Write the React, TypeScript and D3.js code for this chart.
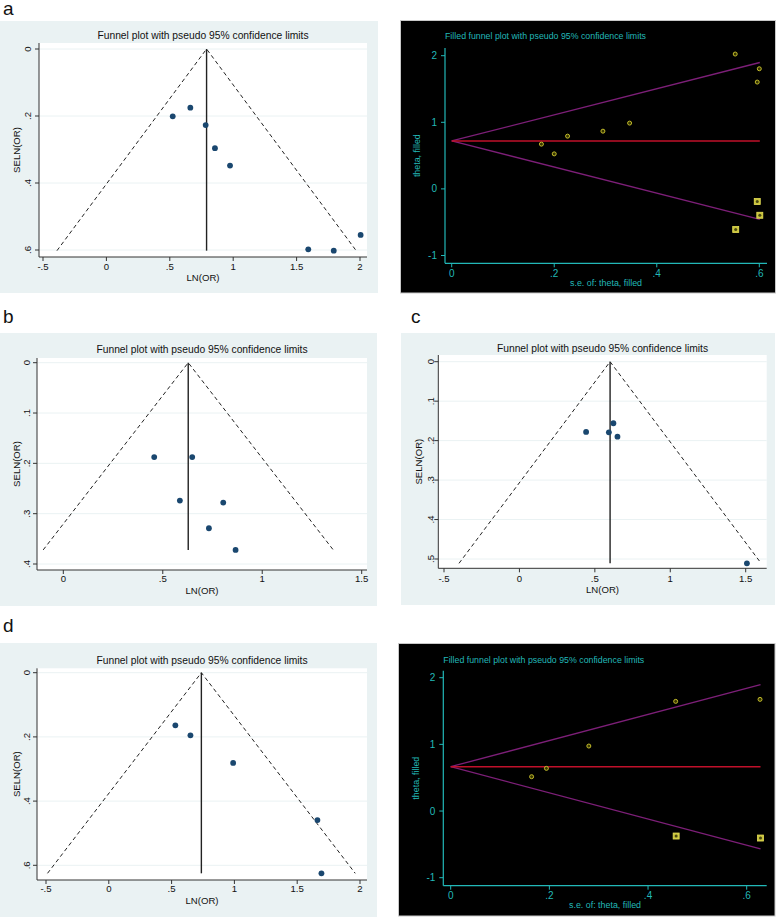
import React from 'react';
import * as d3 from 'd3';

// ---------- DATA ----------
// Panel a: funnel plot
const aLnOR = [0.523, 0.662, 0.783, 0.856, 0.975, 1.592, 1.793, 2.005];
const aSE = [0.201, 0.175, 0.227, 0.296, 0.348, 0.598, 0.602, 0.555];
const aPooled = 0.79;
const aXTicks = [-0.5, 0, 0.5, 1, 1.5, 2];
const aXTickLabels = ['-.5', '0', '.5', '1', '1.5', '2'];
const aYTicks = [0, 0.2, 0.4, 0.6];
const aYTickLabels = ['0', '.2', '.4', '.6'];

// Panel a: filled funnel plot (trim and fill)
const aFilledSE = [0.175, 0.2, 0.226, 0.295, 0.347, 0.553, 0.596, 0.6];
const aFilledTheta = [0.672, 0.526, 0.792, 0.867, 0.988, 2.025, 1.604, 1.804];
const aImputedSE = [0.596, 0.601, 0.554];
const aImputedTheta = [-0.19, -0.396, -0.61];
const aFilledPooled = 0.72;
const aFilledXTicks = [0, 0.2, 0.4, 0.6];
const aFilledXTickLabels = ['0', '.2', '.4', '.6'];
const filledYTicks = [-1, 0, 1, 2];
const filledYTickLabels = ['-1', '0', '1', '2'];

// Panel b
const bLnOR = [0.457, 0.648, 0.586, 0.804, 0.732, 0.866];
const bSE = [0.1875, 0.1875, 0.274, 0.278, 0.329, 0.372];
const bPooled = 0.628;
const bXTicks = [0, 0.5, 1, 1.5];
const bXTickLabels = ['0', '.5', '1', '1.5'];
const bYTicks = [0, 0.1, 0.2, 0.3, 0.4];
const bYTickLabels = ['0', '.1', '.2', '.3', '.4'];

// Panel c
const cLnOR = [0.623, 0.442, 0.593, 0.65, 1.508];
const cSE = [0.156, 0.178, 0.179, 0.19, 0.511];
const cPooled = 0.601;
const cXTicks = [-0.5, 0, 0.5, 1, 1.5];
const cXTickLabels = ['-.5', '0', '.5', '1', '1.5'];
const cYTicks = [0, 0.1, 0.2, 0.3, 0.4, 0.5];
const cYTickLabels = ['0', '.1', '.2', '.3', '.4', '.5'];

// Panel d
const dLnOR = [0.53, 0.65, 0.99, 1.661, 1.693];
const dSE = [0.164, 0.195, 0.281, 0.459, 0.625];
const dPooled = 0.737;
const dXTicks = [-0.5, 0, 0.5, 1, 1.5, 2];
const dXTickLabels = ['-.5', '0', '.5', '1', '1.5', '2'];
const dYTicks = [0, 0.2, 0.4, 0.6];
const dYTickLabels = ['0', '.2', '.4', '.6'];

// Panel d: filled funnel plot
const dFilledSE = [0.164, 0.194, 0.28, 0.456, 0.627];
const dFilledTheta = [0.515, 0.64, 0.975, 1.645, 1.675];
const dImputedSE = [0.457, 0.628];
const dImputedTheta = [-0.375, -0.405];
const dFilledPooled = 0.665;
const dFilledXTicks = [0, 0.2, 0.4, 0.6];
const dFilledXTickLabels = ['0', '.2', '.4', '.6'];

const funnelTitle = 'Funnel plot with pseudo 95% confidence limits';
const filledTitle = 'Filled funnel plot with pseudo 95% confidence limits';

// ---------- STYLE ----------
const FONT = '"Liberation Sans", Arial, sans-serif';
const BG = '#eaf2f3';
const NAVY = '#1a476f';
const CYAN = '#22b8b8';
const RED = '#c0102a';
const PURPLE = '#7d1f78';

type FunnelCfg = {
  letter: string;
  lx: number; ly: number;
  box: [number, number, number, number];
  plot: { left: number; right: number; top: number; bottom: number };
  xMap: { d: [number, number]; r: [number, number] };
  yMap: { d: [number, number]; r: [number, number] };
  lnOR: number[]; se: number[]; pooled: number;
  xTicks: number[]; xTickLabels: string[];
  yTicks: number[]; yTickLabels: string[];
  titleY: number; xLabY: number; xTitleY: number;
  yLabX: number; yTitleX: number;
};

function StataFunnel({ c }: { c: FunnelCfg }) {
  const x = d3.scaleLinear().domain(c.xMap.d).range(c.xMap.r);
  const y = d3.scaleLinear().domain(c.yMap.d).range(c.yMap.r);
  const { left, right, top, bottom } = c.plot;
  const seMax = d3.max(c.se) as number;
  const z = 1.96;
  const funnel = d3.line<[number, number]>().x(p => x(p[0])).y(p => y(p[1]));
  const lpts: [number, number][] = [[c.pooled - z * seMax, seMax], [c.pooled, 0], [c.pooled + z * seMax, seMax]];
  const midX = (left + right) / 2;
  const midY = (top + bottom) / 2;
  const [bx, by, bw, bh] = c.box;
  return (
    <g>
      <text x={c.lx} y={c.ly} fontFamily={FONT} fontSize={19} fill="#111">{c.letter}</text>
      <rect x={bx} y={by} width={bw} height={bh} fill={BG} />
      <rect x={left} y={top} width={right - left} height={bottom - top} fill="#fff" />
      {c.yTicks.map(t => (
        <line key={'g' + t} x1={left} x2={right} y1={y(t)} y2={y(t)} stroke={BG} strokeWidth={1} />
      ))}
      <text x={midX} y={c.titleY} textAnchor="middle" fontFamily={FONT} fontSize={10.3} fill="#111">{funnelTitle}</text>
      {/* axes */}
      <line x1={left} x2={left} y1={top} y2={bottom} stroke="#333" strokeWidth={1} />
      <line x1={left} x2={right} y1={bottom} y2={bottom} stroke="#333" strokeWidth={1} />
      {c.yTicks.map((t, i) => (
        <g key={'y' + t}>
          <line x1={left - 4} x2={left} y1={y(t)} y2={y(t)} stroke="#333" />
          <text transform={`translate(${c.yLabX},${y(t)}) rotate(-90)`} textAnchor="middle" fontFamily={FONT} fontSize={9.6} fill="#111">{c.yTickLabels[i]}</text>
        </g>
      ))}
      {c.xTicks.map((t, i) => (
        <g key={'x' + t}>
          <line x1={x(t)} x2={x(t)} y1={bottom} y2={bottom + 4} stroke="#333" />
          <text x={x(t)} y={c.xLabY} textAnchor="middle" fontFamily={FONT} fontSize={9.6} fill="#111">{c.xTickLabels[i]}</text>
        </g>
      ))}
      <text x={midX} y={c.xTitleY} textAnchor="middle" fontFamily={FONT} fontSize={9.6} fill="#111">LN(OR)</text>
      <text transform={`translate(${c.yTitleX},${midY}) rotate(-90)`} textAnchor="middle" fontFamily={FONT} fontSize={9.6} fill="#111">SELN(OR)</text>
      {/* funnel */}
      <path d={funnel(lpts) as string} fill="none" stroke="#222" strokeWidth={1} strokeDasharray="4,3" />
      <line x1={x(c.pooled)} x2={x(c.pooled)} y1={y(0)} y2={y(seMax)} stroke="#222" strokeWidth={1.4} />
      {c.lnOR.map((v, i) => (
        <circle key={'p' + i} cx={x(v)} cy={y(c.se[i])} r={2.9} fill={NAVY} />
      ))}
    </g>
  );
}

type FilledCfg = {
  box: [number, number, number, number];
  axisX: number; axisY: number; axisRight: number; axisTop: number;
  xMap: { d: [number, number]; r: [number, number] };
  yMap: { d: [number, number]; r: [number, number] };
  se: number[]; theta: number[]; impSE: number[]; impTheta: number[];
  pooled: number;
  xTicks: number[]; xTickLabels: string[];
  titleX: number; titleY: number; xLabY: number; xTitleY: number; yTitleX: number;
};

function FilledFunnel({ c }: { c: FilledCfg }) {
  const x = d3.scaleLinear().domain(c.xMap.d).range(c.xMap.r);
  const y = d3.scaleLinear().domain(c.yMap.d).range(c.yMap.r);
  const seMax = d3.max([...c.se, ...c.impSE]) as number;
  const z = 1.96;
  const [bx, by, bw, bh] = c.box;
  const midX = (c.axisX + c.axisRight) / 2;
  const midY = (c.axisTop + c.axisY) / 2;
  return (
    <g>
      <rect x={bx} y={by} width={bw} height={bh} fill="#000" stroke="#c8c8c8" strokeWidth={1} />
      <text x={c.titleX} y={c.titleY} fontFamily={FONT} fontSize={8.8} fill={CYAN}>{filledTitle}</text>
      <line x1={c.axisX} x2={c.axisX} y1={c.axisTop} y2={c.axisY} stroke={CYAN} strokeWidth={1.2} />
      <line x1={c.axisX} x2={c.axisRight} y1={c.axisY} y2={c.axisY} stroke={CYAN} strokeWidth={1.2} />
      {filledYTicks.map((t, i) => (
        <g key={'y' + t}>
          <line x1={c.axisX - 4} x2={c.axisX} y1={y(t)} y2={y(t)} stroke={CYAN} />
          <text x={c.axisX - 8} y={y(t) + 3.5} textAnchor="end" fontFamily={FONT} fontSize={10} fill={CYAN}>{filledYTickLabels[i]}</text>
        </g>
      ))}
      {c.xTicks.map((t, i) => (
        <g key={'x' + t}>
          <line x1={x(t)} x2={x(t)} y1={c.axisY} y2={c.axisY + 4} stroke={CYAN} />
          <text x={x(t)} y={c.xLabY} textAnchor="middle" fontFamily={FONT} fontSize={10} fill={CYAN}>{c.xTickLabels[i]}</text>
        </g>
      ))}
      <text x={midX} y={c.xTitleY} textAnchor="middle" fontFamily={FONT} fontSize={8.9} fill={CYAN}>s.e. of: theta, filled</text>
      <text transform={`translate(${c.yTitleX},${midY}) rotate(-90)`} textAnchor="middle" fontFamily={FONT} fontSize={8.9} fill={CYAN}>theta, filled</text>
      <line x1={x(0)} x2={x(seMax)} y1={y(c.pooled)} y2={y(c.pooled + z * seMax)} stroke={PURPLE} strokeWidth={1.3} />
      <line x1={x(0)} x2={x(seMax)} y1={y(c.pooled)} y2={y(c.pooled - z * seMax)} stroke={PURPLE} strokeWidth={1.3} />
      <line x1={x(0)} x2={x(seMax)} y1={y(c.pooled)} y2={y(c.pooled)} stroke={RED} strokeWidth={1.4} />
      {c.se.map((s, i) => (
        <circle key={'o' + i} cx={x(s)} cy={y(c.theta[i])} r={2} fill="#3a3800" stroke="#c4bd2c" strokeWidth={1} />
      ))}
      {c.impSE.map((s, i) => (
        <g key={'s' + i}>
          <rect x={x(s) - 3} y={y(c.impTheta[i]) - 3} width={6} height={6} fill="#c9c43c" stroke="#e6df55" strokeWidth={0.8} />
          <circle cx={x(s)} cy={y(c.impTheta[i])} r={1.5} fill="#4a4812" />
        </g>
      ))}
    </g>
  );
}

const panelA: FunnelCfg = {
  letter: 'a', lx: 3, ly: 15,
  box: [0, 21, 378, 272],
  plot: { left: 39, right: 367, top: 43, bottom: 257 },
  xMap: { d: [-0.5, 2], r: [43, 360] },
  yMap: { d: [0, 0.6], r: [49, 250] },
  lnOR: aLnOR, se: aSE, pooled: aPooled,
  xTicks: aXTicks, xTickLabels: aXTickLabels, yTicks: aYTicks, yTickLabels: aYTickLabels,
  titleY: 38.5, xLabY: 270, xTitleY: 281, yLabX: 30.5, yTitleX: 20,
};

const panelB: FunnelCfg = {
  letter: 'b', lx: 3, ly: 323,
  box: [0, 333, 377, 273],
  plot: { left: 37, right: 367, top: 358, bottom: 570 },
  xMap: { d: [0, 1.5], r: [63.3, 361.7] },
  yMap: { d: [0, 0.4], r: [362.7, 564] },
  lnOR: bLnOR, se: bSE, pooled: bPooled,
  xTicks: bXTicks, xTickLabels: bXTickLabels, yTicks: bYTicks, yTickLabels: bYTickLabels,
  titleY: 353, xLabY: 582, xTitleY: 594, yLabX: 30, yTitleX: 20,
};

const panelC: FunnelCfg = {
  letter: 'c', lx: 411, ly: 323,
  box: [401, 333, 374, 272],
  plot: { left: 438.3, right: 766.7, top: 355, bottom: 568.3 },
  xMap: { d: [-0.5, 1.5], r: [444, 745.7] },
  yMap: { d: [0, 0.5], r: [361.7, 559] },
  lnOR: cLnOR, se: cSE, pooled: cPooled,
  xTicks: cXTicks, xTickLabels: cXTickLabels, yTicks: cYTicks, yTickLabels: cYTickLabels,
  titleY: 352, xLabY: 582, xTitleY: 592.5, yLabX: 433.5, yTitleX: 421.5,
};

const panelD: FunnelCfg = {
  letter: 'd', lx: 3, ly: 631.5,
  box: [0, 643, 377, 274],
  plot: { left: 37, right: 367, top: 668.3, bottom: 880 },
  xMap: { d: [-0.5, 2], r: [46, 360] },
  yMap: { d: [0, 0.6], r: [672.7, 865.3] },
  lnOR: dLnOR, se: dSE, pooled: dPooled,
  xTicks: dXTicks, xTickLabels: dXTickLabels, yTicks: dYTicks, yTickLabels: dYTickLabels,
  titleY: 663.5, xLabY: 892, xTitleY: 904, yLabX: 30, yTitleX: 20,
};

const filledA: FilledCfg = {
  box: [400.5, 20.5, 375, 272.5],
  axisX: 445, axisY: 263.3, axisRight: 767, axisTop: 48,
  xMap: { d: [0, 0.6], r: [451.7, 759.3] },
  yMap: { d: [-1, 2], r: [255.5, 55.7] },
  se: aFilledSE, theta: aFilledTheta, impSE: aImputedSE, impTheta: aImputedTheta,
  pooled: aFilledPooled, xTicks: aFilledXTicks, xTickLabels: aFilledXTickLabels,
  titleX: 445, titleY: 39, xLabY: 276.5, xTitleY: 285.5, yTitleX: 420,
};

const filledD: FilledCfg = {
  box: [398.5, 643.5, 376.5, 272.5],
  axisX: 443.3, axisY: 885.7, axisRight: 766.7, axisTop: 670.7,
  xMap: { d: [0, 0.6], r: [450.7, 746.7] },
  yMap: { d: [-1, 2], r: [877.7, 677.7] },
  se: dFilledSE, theta: dFilledTheta, impSE: dImputedSE, impTheta: dImputedTheta,
  pooled: dFilledPooled, xTicks: dFilledXTicks, xTickLabels: dFilledXTickLabels,
  titleX: 443.3, titleY: 662.7, xLabY: 899, xTitleY: 908, yTitleX: 418.5,
};

export default function App() {
  return (
    <svg width={777} height={918} style={{ position: 'absolute', left: 0, top: 0, background: '#fff' }}>
      <rect x={0} y={0} width={777} height={918} fill="#fff" />
      <StataFunnel c={panelA} />
      <FilledFunnel c={filledA} />
      <StataFunnel c={panelB} />
      <StataFunnel c={panelC} />
      <StataFunnel c={panelD} />
      <FilledFunnel c={filledD} />
    </svg>
  );
}
